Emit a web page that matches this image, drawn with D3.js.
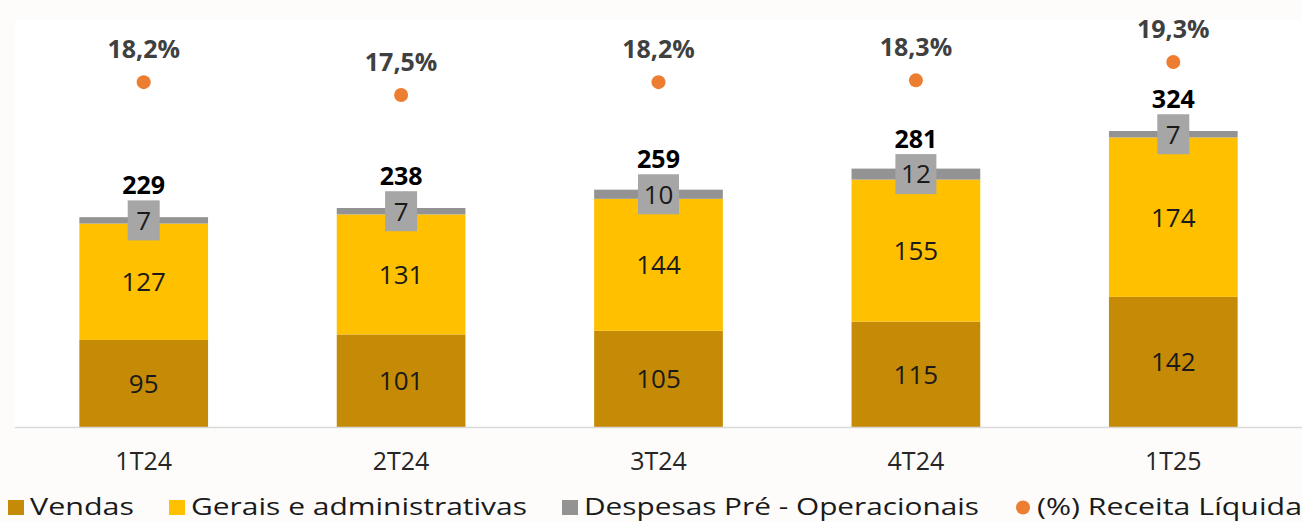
<!DOCTYPE html>
<html>
<head>
<meta charset="utf-8">
<script src="https://cdn.jsdelivr.net/npm/d3@7"></script>
<style>
  body { margin: 0; background: #fdfcfa; }
  svg { display: block; font-family: "Open Sans", "DejaVu Sans", sans-serif; }
</style>
</head>
<body>
<script>
// chart data
var categories = ["1T24", "2T24", "3T24", "4T24", "1T25"];
var vendas = [95, 101, 105, 115, 142];
var gerais = [127, 131, 144, 155, 174];
var preOper = [7, 7, 10, 12, 7];
var totals = [229, 238, 259, 281, 324];
var pctReceita = [18.2, 17.5, 18.2, 18.3, 19.3];
var seriesNames = ["Vendas", "Gerais e administrativas", "Despesas Pré - Operacionais", "(%) Receita Líquida"];

var colors = ["#c58a06", "#ffc000", "#939393", "#ed7d31"];

var width = 1302, height = 522;

var svg = d3.select("body").append("svg")
    .attr("width", width)
    .attr("height", height);

// white plot panel
svg.append("rect")
    .attr("x", 15).attr("y", 20)
    .attr("width", width - 15).attr("height", 408)
    .attr("fill", "#ffffff");

var x = d3.scaleBand()
    .domain(categories)
    .range([15, 1302])
    .paddingInner(0.5)
    .paddingOuter(0.25);

var y = d3.scaleLinear()
    .domain([0, 360])
    .range([427, 427 - 360 * 0.9163]);

var yPct = d3.scaleLinear()
    .domain([17.5, 19.3])
    .range([95, 62]);

//build stacked rows
var rows = categories.map(function (c, i) {
    return { key: c, vendas: vendas[i], gerais: gerais[i], pre: preOper[i] };
});
var stack = d3.stack().keys(["vendas", "gerais", "pre"])(rows);

var layer = svg.selectAll(".layer")
    .data(stack)
    .enter().append("g")
    .attr("class", "layer")
    .attr("fill", function (d, i) { return colors[i]; });

layer.selectAll("rect")
    .data(function (d) { return d; })
    .enter().append("rect")
    .attr("x", function (d) { return x(d.data.key); })
    .attr("width", x.bandwidth())
    .attr("y", function (d) { return y(d[1]); })
    .attr("height", function (d) { return y(d[0]) - y(d[1]); });

// axis line
svg.append("line")
    .attr("x1", 15).attr("x2", width)
    .attr("y1", y(0) + 0.5).attr("y2", y(0) + 0.5)
    .attr("stroke", "#d9d9d9")
    .attr("stroke-width", 1.5);

// labels inside vendas and gerais segments
[0, 1].forEach(function (k) {
    svg.selectAll(".seglabel" + k)
        .data(stack[k])
        .enter().append("text")
        .attr("x", function (d) { return x(d.data.key) + x.bandwidth() / 2; })
        .attr("y", function (d) { return (y(d[0]) + y(d[1])) / 2; })
        .attr("dy", "0.36em")
        .attr("text-anchor", "middle")
        .style("font-size", "26px")
        .attr("fill", "#1a1a1a")
        .text(function (d) { return k === 0 ? d.data.vendas : d.data.gerais; });
});

// pre-operational label boxes
var preG = svg.selectAll(".prebox")
    .data(stack[2])
    .enter().append("g")
    .attr("class", "prebox")
    .attr("transform", function (d) {
        return "translate(" + (x(d.data.key) + x.bandwidth() / 2) + "," + ((y(d[0]) + y(d[1])) / 2) + ")";
    });

preG.append("rect")
    .attr("x", function (d) { return d.data.pre >= 10 ? -20.5 : -16; })
    .attr("width", function (d) { return d.data.pre >= 10 ? 41 : 32; })
    .attr("y", -20)
    .attr("height", 40)
    .attr("fill", "#a6a6a6");

preG.append("text")
    .attr("text-anchor", "middle")
    .attr("dy", "0.36em")
    .style("font-size", "26px")
    .attr("fill", "#1a1a1a")
    .text(function (d) { return d.data.pre; });

// totals
svg.selectAll(".total")
    .data(stack[2])
    .enter().append("text")
    .attr("x", function (d) { return x(d.data.key) + x.bandwidth() / 2; })
    .attr("y", function (d) { return (y(d[0]) + y(d[1])) / 2 - 26; })
    .attr("text-anchor", "middle")
    .style("font-size", "25px")
    .style("font-weight", "bold")
    .attr("fill", "#000")
    .text(function (d, i) { return totals[i]; });

// percentage dots
svg.selectAll(".dot")
    .data(pctReceita)
    .enter().append("circle")
    .attr("cx", function (d, i) { return x(categories[i]) + x.bandwidth() / 2; })
    .attr("cy", function (d) { return yPct(d); })
    .attr("r", 7)
    .attr("fill", colors[3]);

svg.selectAll(".pct")
    .data(pctReceita)
    .enter().append("text")
    .attr("x", function (d, i) { return x(categories[i]) + x.bandwidth() / 2; })
    .attr("y", function (d) { return yPct(d) - 33; })
    .attr("dy", "0.36em")
    .attr("text-anchor", "middle")
    .style("font-size", "25px")
    .style("font-weight", "bold")
    .attr("fill", "#404040")
    .text(function (d) { return d.toFixed(1).replace(".", ",") + "%"; });

// category axis labels
svg.selectAll(".cat")
    .data(categories)
    .enter().append("text")
    .attr("x", function (d) { return x(d) + x.bandwidth() / 2; })
    .attr("y", 470)
    .attr("text-anchor", "middle")
    .style("font-size", "25px")
    .attr("fill", "#262626")
    .text(function (d) { return d; });

// legend
var legendX = [8, 169, 562, 1016];
var legendW = [104, 336, 395, 265];
var legend = svg.selectAll(".legend")
    .data(seriesNames)
    .enter().append("g")
    .attr("class", "legend")
    .attr("transform", function (d, i) { return "translate(" + legendX[i] + ",0)"; });

legend.each(function (d, i) {
    var g = d3.select(this);
    if (i < 3) {
        g.append("rect").attr("x", 0).attr("y", 500).attr("width", 16).attr("height", 15).attr("fill", colors[i]);
    } else {
        g.append("circle").attr("cx", 7).attr("cy", 507.5).attr("r", 7).attr("fill", colors[i]);
    }
    g.append("text")
        .attr("x", i < 3 ? 22 : 21)
        .attr("y", 515)
        .attr("textLength", legendW[i])
        .attr("lengthAdjust", "spacingAndGlyphs")
        .style("font-size", "23px")
        .attr("fill", "#1a1a1a")
        .text(d);
});
</script>
</body>
</html>
